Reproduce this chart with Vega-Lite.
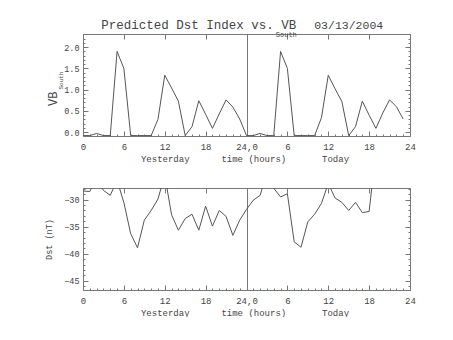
{
  "$schema": "https://vega.github.io/schema/vega-lite/v6.json",
  "autosize": {"type": "pad"},
  "padding": {"left": 44, "top": 19, "right": 0, "bottom": 0},
  "background": "white",
  "spacing": 21,
  "config": {
    "view": {"stroke": null},
    "font": "Liberation Mono",
    "axis": {
      "grid": false,
      "domainColor": "#777",
      "tickColor": "#777",
      "labelColor": "#444",
      "titleColor": "#444",
      "labelFont": "Liberation Mono",
      "titleFont": "Liberation Mono",
      "titleFontWeight": "normal",
      "labelOverlap": false,
      "labelFlush": false,
      "labelBound": false
    },
    "text": {"color": "#444", "font": "Liberation Mono"}
  },
  "datasets": {
    "vb": [
      {"h": 0, "v": -0.08}, {"h": 1, "v": -0.08}, {"h": 2, "v": -0.03}, {"h": 3, "v": -0.08},
      {"h": 4, "v": -0.08}, {"h": 5, "v": 1.9}, {"h": 6, "v": 1.5}, {"h": 7, "v": -0.08},
      {"h": 8, "v": -0.08}, {"h": 9, "v": -0.08}, {"h": 10, "v": -0.08}, {"h": 11, "v": 0.3},
      {"h": 12, "v": 1.34}, {"h": 13, "v": 1.04}, {"h": 14, "v": 0.73}, {"h": 15, "v": -0.08},
      {"h": 16, "v": 0.13}, {"h": 17, "v": 0.74}, {"h": 18, "v": 0.42}, {"h": 19, "v": 0.09},
      {"h": 20, "v": 0.43}, {"h": 21, "v": 0.76}, {"h": 22, "v": 0.59}, {"h": 23, "v": 0.31},
      {"h": 24, "v": -0.08}, {"h": 25, "v": -0.08}, {"h": 26, "v": -0.03}, {"h": 27, "v": -0.08},
      {"h": 28, "v": -0.08}, {"h": 29, "v": 1.9}, {"h": 30, "v": 1.5}, {"h": 31, "v": -0.08},
      {"h": 32, "v": -0.08}, {"h": 33, "v": -0.08}, {"h": 34, "v": -0.08}, {"h": 35, "v": 0.34},
      {"h": 36, "v": 1.34}, {"h": 37, "v": 1.02}, {"h": 38, "v": 0.72}, {"h": 39, "v": -0.08},
      {"h": 40, "v": 0.13}, {"h": 41, "v": 0.73}, {"h": 42, "v": 0.4}, {"h": 43, "v": 0.09},
      {"h": 44, "v": 0.45}, {"h": 45, "v": 0.76}, {"h": 46, "v": 0.6}, {"h": 47, "v": 0.31}
    ],
    "dst": [
      {"h": 0, "v": -28.4}, {"h": 1, "v": -28.5}, {"h": 2, "v": -25.9}, {"h": 3, "v": -28.3},
      {"h": 4, "v": -29.2}, {"h": 5, "v": -26.4}, {"h": 6, "v": -30.55}, {"h": 7, "v": -36.3},
      {"h": 8, "v": -38.9}, {"h": 9, "v": -33.8}, {"h": 10, "v": -32.0}, {"h": 11, "v": -29.9},
      {"h": 12, "v": -25.5}, {"h": 13, "v": -32.8}, {"h": 14, "v": -35.65}, {"h": 15, "v": -33.5},
      {"h": 16, "v": -32.7}, {"h": 17, "v": -35.65}, {"h": 18, "v": -31.2}, {"h": 19, "v": -34.9},
      {"h": 20, "v": -32.0}, {"h": 21, "v": -33.1}, {"h": 22, "v": -36.6}, {"h": 23, "v": -33.8},
      {"h": 24, "v": -31.8}, {"h": 25, "v": -30.1}, {"h": 26, "v": -29.2}, {"h": 27, "v": -25.0},
      {"h": 28, "v": -27.9}, {"h": 29, "v": -29.5}, {"h": 30, "v": -28.9}, {"h": 31, "v": -37.8},
      {"h": 32, "v": -38.8}, {"h": 33, "v": -34.1}, {"h": 34, "v": -32.7}, {"h": 35, "v": -30.7},
      {"h": 36, "v": -27.0}, {"h": 37, "v": -29.7}, {"h": 38, "v": -30.5}, {"h": 39, "v": -32.0},
      {"h": 40, "v": -30.5}, {"h": 41, "v": -32.4}, {"h": 42, "v": -32.2}, {"h": 43, "v": -21.0}
    ]
  },
  "vconcat": [
    {
      "width": 327,
      "height": 102,
      "layer": [
        {
          "data": {"name": "vb"},
          "mark": {"type": "line", "color": "#555", "strokeWidth": 1, "clip": true},
          "encoding": {
            "x": {
              "field": "h", "type": "quantitative",
              "scale": {"domain": [0, 48], "nice": false, "zero": false},
              "axis": {
                "orient": "bottom", "title": null,
                "values": [0,1,2,3,4,5,6,7,8,9,10,11,12,13,14,15,16,17,18,19,20,21,22,23,24,25,26,27,28,29,30,31,32,33,34,35,36,37,38,39,40,41,42,43,44,45,46,47,48],
                "tickSize": {"condition": {"test": "datum.value % 6 === 0", "value": -5}, "value": -2},
                "labelPadding": {"condition": {"test": "datum.value % 6 === 0", "value": 11}, "value": 8},
                "labelFontSize": 9,
                "labelLineHeight": 12,
                "labelBaseline": "top",
                "labelExpr": "datum.value == 0 ? '0' : datum.value == 6 ? '6' : datum.value == 12 ? ['12', 'Yesterday'] : datum.value == 18 ? '18' : datum.value == 24 ? '24,0' : datum.value == 25 ? ['', 'time (hours)'] : datum.value == 30 ? '6' : datum.value == 36 ? '12' : datum.value == 37 ? ['', 'Today'] : datum.value == 42 ? '18' : datum.value == 48 ? '24' : ''"
              }
            },
            "y": {
              "field": "v", "type": "quantitative",
              "scale": {"domain": [-0.09, 2.31], "nice": false, "zero": false},
              "axis": {
                "orient": "left", "title": null,
                "values": [0,0.1,0.2,0.3,0.4,0.5,0.6,0.7,0.8,0.9,1.0,1.1,1.2,1.3,1.4,1.5,1.6,1.7,1.8,1.9,2.0,2.1,2.2,2.3],
                "tickSize": {"condition": {"test": "abs(datum.value*2 - round(datum.value*2)) < 0.001", "value": -5}, "value": -2},
                "labelPadding": 9,
                "labelFontSize": 8.5,
                "labelExpr": "abs(datum.value*2 - round(datum.value*2)) < 0.001 ? format(datum.value, '.1f') : ''"
              }
            }
          }
        },
        {
          "data": {"name": "vb"},
          "mark": {"type": "line", "strokeOpacity": 0, "clip": true},
          "encoding": {
            "x": {
              "field": "h", "type": "quantitative",
              "axis": {
                "orient": "top", "title": null, "labels": false,
                "values": [0,6,12,18,24,30,36,42,48],
                "tickSize": {"condition": {"test": "datum.value == 24", "value": -102}, "value": -5}
              }
            },
            "y": {
              "field": "v", "type": "quantitative",
              "axis": {
                "orient": "right", "title": null, "labels": false,
                "values": [0,0.1,0.2,0.3,0.4,0.5,0.6,0.7,0.8,0.9,1.0,1.1,1.2,1.3,1.4,1.5,1.6,1.7,1.8,1.9,2.0,2.1,2.2,2.3],
                "tickSize": {"condition": {"test": "abs(datum.value*2 - round(datum.value*2)) < 0.001", "value": -5}, "value": -2}
              }
            }
          }
        },
        {
          "data": {"values": [{"t": "Predicted Dst Index vs. VB"}]},
          "mark": {"type": "text", "fontSize": 12.5, "align": "center", "baseline": "alphabetic"},
          "encoding": {
            "x": {"datum": 17.0, "type": "quantitative", "axis": null},
            "y": {"datum": 2.416, "type": "quantitative", "axis": null},
            "text": {"field": "t"}
          }
        },
        {
          "data": {"values": [{"t": "South"}]},
          "mark": {"type": "text", "fontSize": 7, "align": "center", "baseline": "alphabetic"},
          "encoding": {
            "x": {"datum": 29.84, "type": "quantitative", "axis": null},
            "y": {"datum": 2.25, "type": "quantitative", "axis": null},
            "text": {"field": "t"}
          }
        },
        {
          "data": {"values": [{"t": "03/13/2004"}]},
          "mark": {"type": "text", "fontSize": 11.5, "align": "center", "baseline": "alphabetic"},
          "encoding": {
            "x": {"datum": 39.0, "type": "quantitative", "axis": null},
            "y": {"datum": 2.416, "type": "quantitative", "axis": null},
            "text": {"field": "t"}
          }
        },
        {
          "data": {"values": [{"t": "VB"}]},
          "mark": {"type": "text", "fontSize": 12, "align": "center", "baseline": "alphabetic", "angle": 270},
          "encoding": {
            "x": {"datum": -3.82, "type": "quantitative", "axis": null},
            "y": {"datum": 0.785, "type": "quantitative", "axis": null},
            "text": {"field": "t"}
          }
        },
        {
          "data": {"values": [{"t": "South"}]},
          "mark": {"type": "text", "fontSize": 6, "align": "center", "baseline": "alphabetic", "angle": 270},
          "encoding": {
            "x": {"datum": -2.98, "type": "quantitative", "axis": null},
            "y": {"datum": 1.216, "type": "quantitative", "axis": null},
            "text": {"field": "t"}
          }
        }
      ],
      "resolve": {"axis": {"x": "independent", "y": "independent"}}
    },
    {
      "width": 327,
      "height": 102,
      "layer": [
        {
          "data": {"name": "dst"},
          "mark": {"type": "line", "color": "#555", "strokeWidth": 1, "clip": true},
          "encoding": {
            "x": {
              "field": "h", "type": "quantitative",
              "scale": {"domain": [0, 48], "nice": false, "zero": false},
              "axis": {
                "orient": "bottom", "title": null,
                "values": [0,1,2,3,4,5,6,7,8,9,10,11,12,13,14,15,16,17,18,19,20,21,22,23,24,25,26,27,28,29,30,31,32,33,34,35,36,37,38,39,40,41,42,43,44,45,46,47,48],
                "tickSize": {"condition": {"test": "datum.value % 6 === 0", "value": -5}, "value": -2},
                "labelPadding": {"condition": {"test": "datum.value % 6 === 0", "value": 11}, "value": 8},
                "labelFontSize": 9,
                "labelLineHeight": 12,
                "labelBaseline": "top",
                "labelExpr": "datum.value == 0 ? '0' : datum.value == 6 ? '6' : datum.value == 12 ? ['12', 'Yesterday'] : datum.value == 18 ? '18' : datum.value == 24 ? '24,0' : datum.value == 25 ? ['', 'time (hours)'] : datum.value == 30 ? '6' : datum.value == 36 ? '12' : datum.value == 37 ? ['', 'Today'] : datum.value == 42 ? '18' : datum.value == 48 ? '24' : ''"
              }
            },
            "y": {
              "field": "v", "type": "quantitative",
              "scale": {"domain": [-46.7, -27.85], "nice": false, "zero": false},
              "axis": {
                "orient": "left", "title": "Dst (nT)",
                "titleFontSize": 8.5, "titlePadding": 10,
                "values": [-46,-45,-44,-43,-42,-41,-40,-39,-38,-37,-36,-35,-34,-33,-32,-31,-30,-29,-28],
                "tickSize": {"condition": {"test": "datum.value % 5 === 0", "value": -5}, "value": -2},
                "labelPadding": 9,
                "labelFontSize": 8.5,
                "labelExpr": "datum.value % 5 === 0 ? format(datum.value, 'd') : ''"
              }
            }
          }
        },
        {
          "data": {"name": "dst"},
          "mark": {"type": "line", "strokeOpacity": 0, "clip": true},
          "encoding": {
            "x": {
              "field": "h", "type": "quantitative",
              "axis": {
                "orient": "top", "title": null, "labels": false,
                "values": [0,6,12,18,24,30,36,42,48],
                "tickSize": {"condition": {"test": "datum.value == 24", "value": -102}, "value": -5}
              }
            },
            "y": {
              "field": "v", "type": "quantitative",
              "axis": {
                "orient": "right", "title": null, "labels": false,
                "values": [-46,-45,-44,-43,-42,-41,-40,-39,-38,-37,-36,-35,-34,-33,-32,-31,-30,-29,-28],
                "tickSize": {"condition": {"test": "datum.value % 5 === 0", "value": -5}, "value": -2}
              }
            }
          }
        }
      ],
      "resolve": {"axis": {"x": "independent", "y": "independent"}}
    }
  ]
}
